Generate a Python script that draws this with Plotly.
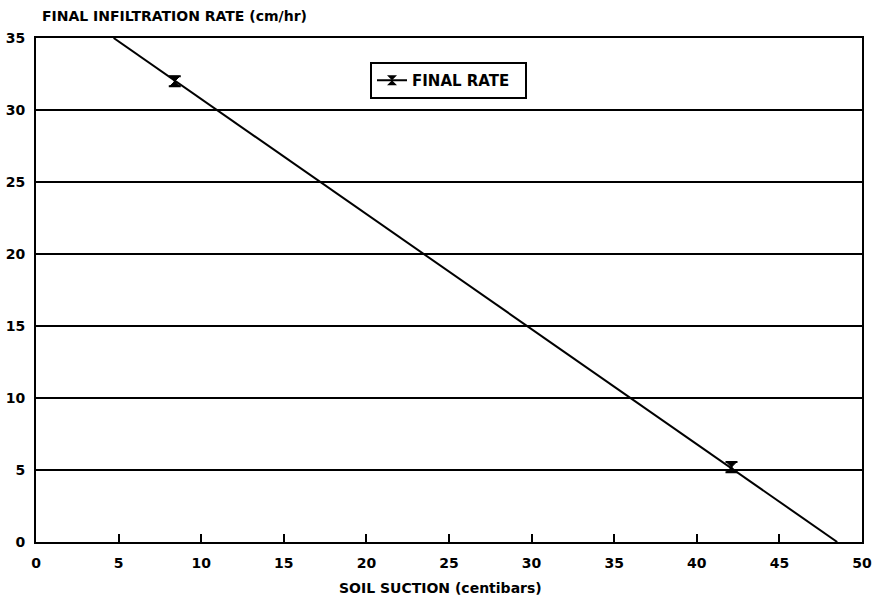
import plotly.graph_objects as go

# Measured data points (soil suction in centibars, final infiltration rate cm/hr)
suction = [8.4, 42.1]
final_rate = [32.0, 5.2]
rate_err = [0.35, 0.35]

# Fitted line end points
fit_x = [4.7, 48.5]
fit_y = [35.0, 0.0]

x_ticks = [0, 5, 10, 15, 20, 25, 30, 35, 40, 45, 50]
y_ticks = [0, 5, 10, 15, 20, 25, 30, 35]

FONT = "DejaVu Sans"
W, H = 876, 600
ML, MR, MT, MB = 36, 14, 38, 58
PW, PH = W - ML - MR, H - MT - MB

fig = go.Figure()

fig.add_trace(go.Scatter(
    x=fit_x, y=fit_y, mode="lines",
    line=dict(color="black", width=2),
    showlegend=False, hoverinfo="skip",
))

fig.add_trace(go.Scatter(
    x=suction, y=final_rate, mode="markers",
    marker=dict(symbol="hourglass", size=10, color="black",
                line=dict(color="black", width=1)),
    error_y=dict(type="data", array=rate_err, visible=True,
                 color="black", thickness=2, width=6),
    showlegend=False,
))

# legend entry (line + marker)
fig.add_trace(go.Scatter(
    x=[None], y=[None], mode="lines+markers", name="FINAL RATE  ",
    line=dict(color="black", width=2),
    marker=dict(symbol="hourglass", size=10, color="black"),
))

fig.update_layout(
    width=W, height=H,
    paper_bgcolor="white", plot_bgcolor="white",
    margin=dict(l=ML, r=MR, t=MT, b=MB, autoexpand=False),
    font=dict(family=FONT, color="black", size=13),
    legend=dict(
        x=(370 - ML) / PW, y=1 - (62 - MT) / PH, xanchor="left", yanchor="top",
        bordercolor="black", borderwidth=2, bgcolor="white",
        font=dict(family=FONT, size=15, color="black", weight="bold"),
        itemwidth=30,
    ),
    annotations=[
        dict(text="<b>FINAL INFILTRATION RATE (cm/hr)</b>",
             x=(40 - ML) / PW, y=1 + (MT - 16) / PH,
             xref="paper", yref="paper", showarrow=False,
             xanchor="left", yanchor="middle",
             font=dict(family=FONT, size=14, color="black")),
        dict(text="<b>SOIL SUCTION (centibars)</b>",
             x=(440 - ML) / PW, y=-(588 - (H - MB)) / PH,
             xref="paper", yref="paper", showarrow=False,
             xanchor="center", yanchor="middle",
             font=dict(family=FONT, size=14, color="black")),
    ],
)

fig.update_xaxes(
    range=[0, 50], tickvals=x_ticks, ticktext=[str(v) for v in x_ticks],
    showgrid=False, zeroline=False, automargin=False,
    showline=True, linecolor="black", linewidth=2, mirror=True,
    ticks="inside", ticklen=8, tickwidth=2, tickcolor="black",
    ticklabelstandoff=7,
    tickfont=dict(family=FONT, size=14, color="black", weight="bold"),
)
fig.update_yaxes(
    range=[0, 35], tickvals=y_ticks, ticktext=[str(v) for v in y_ticks],
    showgrid=True, gridcolor="black", gridwidth=1.5, zeroline=False,
    automargin=False,
    showline=True, linecolor="black", linewidth=2, mirror=True,
    ticks="", ticklabelstandoff=6,
    tickfont=dict(family=FONT, size=14, color="black", weight="bold"),
)

fig.write_html(
    "out.html",
    config={"displayModeBar": False},
    post_script="document.body.style.margin='0px';document.body.style.overflow='hidden';",
)
